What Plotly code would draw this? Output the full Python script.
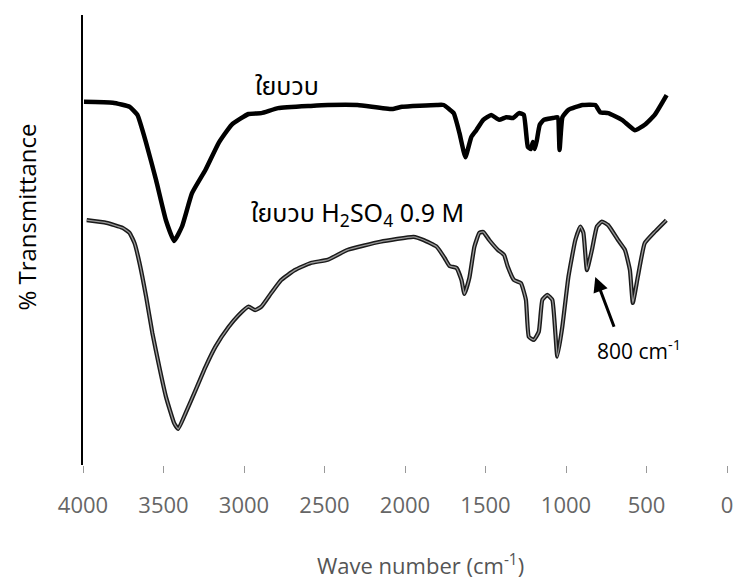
import plotly.graph_objects as go

# Raw fibre (ใยบวบ) spectrum: wavenumber (cm-1) and transmittance (a.u.)
wn_raw = [3994, 3815, 3711, 3662, 3608, 3546, 3485, 3434, 3385, 3323, 3239, 3157, 3077,
          2972, 2892, 2788, 2585, 2480, 2295, 2080, 2018, 1803, 1760, 1698, 1662, 1625,
          1588, 1557, 1514, 1465, 1415, 1372, 1329, 1292, 1262, 1237, 1218, 1206, 1194,
          1182, 1163, 1138, 1083, 1052, 1040, 1022, 985, 898, 818, 788, 738, 652, 572,
          511, 449, 375]
t_raw = [80.7, 80.5, 79.6, 77.8, 71.6, 63.3, 54.4, 49.8, 53.0, 60.4, 65.6, 71.6, 75.6,
         78.0, 78.2, 79.3, 79.8, 80.0, 80.0, 79.1, 79.6, 80.0, 80.0, 78.2, 73.8, 68.4,
         72.9, 74.4, 76.7, 77.8, 76.7, 77.3, 77.1, 78.2, 77.8, 70.7, 70.2, 71.8, 70.2,
         72.0, 75.6, 76.7, 77.1, 77.3, 70.0, 77.3, 78.9, 80.0, 80.0, 78.4, 78.2, 76.7,
         74.4, 75.6, 77.8, 82.2]

# Acid-treated fibre (ใยบวบ H2SO4 0.9 M) spectrum
wn_acid = [3977, 3854, 3754, 3711, 3680, 3649, 3608, 3569, 3526, 3485, 3434, 3409, 3362,
           3300, 3239, 3177, 3095, 3034, 2972, 2931, 2892, 2831, 2769, 2685, 2585, 2480,
           2357, 2154, 1947, 1885, 1803, 1754, 1723, 1680, 1649, 1631, 1600, 1569, 1538,
           1514, 1477, 1423, 1385, 1362, 1323, 1280, 1249, 1231, 1200, 1169, 1147, 1116,
           1085, 1054, 1023, 985, 942, 911, 892, 870, 839, 808, 777, 738, 677, 634, 603,
           585, 554, 511, 449, 408, 377]
t_acid = [54.4, 53.8, 52.7, 51.6, 49.3, 44.9, 37.4, 29.3, 21.8, 15.2, 9.3, 8.0, 11.6,
          16.7, 21.8, 26.3, 30.7, 33.3, 35.2, 34.4, 35.2, 38.2, 41.1, 43.3, 44.9, 45.6,
          47.8, 49.6, 50.7, 50.0, 48.5, 46.0, 44.2, 43.8, 41.1, 38.0, 41.6, 48.5, 51.6,
          51.8, 50.0, 47.8, 46.7, 44.1, 41.1, 40.4, 36.7, 28.5, 27.8, 29.6, 36.7, 37.8,
          36.7, 24.1, 30.7, 41.8, 50.0, 53.0, 51.6, 43.3, 47.8, 53.0, 54.1, 53.3, 50.0,
          47.8, 43.3, 36.0, 41.8, 49.3, 51.8, 53.3, 54.4]

x_ticks = [4000, 3500, 3000, 2500, 2000, 1500, 1000, 500, 0]
label_raw = "ใยบวบ"
label_acid = "ใยบวบ H<sub>2</sub>SO<sub>4</sub> 0.9 M"
label_peak = "800 cm<sup>-1</sup>"
x_title = "Wave number (cm<sup>-1</sup>)"
y_title = "% Transmittance"

fig = go.Figure()
fig.add_trace(go.Scatter(x=wn_raw, y=t_raw, mode="lines",
                         line=dict(color="black", width=4.5, shape="spline", smoothing=0.4),
                         showlegend=False, hoverinfo="skip"))
fig.add_trace(go.Scatter(x=wn_acid, y=t_acid, mode="lines",
                         line=dict(color="#1a1a1a", width=4.2, shape="spline", smoothing=0.4),
                         showlegend=False, hoverinfo="skip"))
fig.add_trace(go.Scatter(x=wn_acid, y=t_acid, mode="lines",
                         line=dict(color="#9a9a9a", width=1.3, shape="spline", smoothing=0.4),
                         showlegend=False, hoverinfo="skip"))

thai_font = "Noto Sans Thai, Noto Sans, DejaVu Sans, sans-serif"

fig.add_annotation(x=2945, y=84.0, text=label_raw, showarrow=False, xanchor="left",
                   yanchor="middle", font=dict(family=thai_font, size=25, color="black"))
fig.add_annotation(x=2972, y=55.5, text=label_acid, showarrow=False, xanchor="left",
                   yanchor="middle", font=dict(family=thai_font, size=25, color="black"))
fig.add_annotation(x=818, y=41.8, ax=698, ay=30.4, axref="x", ayref="y", xref="x", yref="y",
                   text="", showarrow=True, arrowhead=2, arrowsize=1.0, arrowwidth=3,
                   arrowcolor="black")
fig.add_annotation(x=548, y=25.6, text=label_peak, showarrow=False,
                   font=dict(family="Open Sans, sans-serif", size=21, color="black"))

# axis titles placed as paper annotations
fig.add_annotation(xref="paper", yref="paper", x=0.5246, y=-0.2222, text=x_title,
                   showarrow=False, xanchor="center", yanchor="middle",
                   font=dict(family="Open Sans, sans-serif", size=22, color="#555555"))
fig.add_annotation(xref="paper", yref="paper", x=-0.0892, y=0.551, text=y_title,
                   showarrow=False, xanchor="center", yanchor="middle", textangle=-90,
                   font=dict(family="Open Sans, sans-serif", size=24, color="black"))

fig.update_layout(
    width=742, height=585,
    margin=dict(l=83, r=9, t=15, b=120),
    paper_bgcolor="white", plot_bgcolor="white",
    xaxis=dict(range=[4000, 0], tickvals=x_ticks, ticktext=[str(v) for v in x_ticks],
               showgrid=False, zeroline=False, showline=False,
               ticks="outside", ticklen=7, tickwidth=1, tickcolor="#999999",
               ticklabelstandoff=14,
               tickfont=dict(family="Open Sans, sans-serif", size=22, color="#666666")),
    yaxis=dict(range=[0, 100], showgrid=False, zeroline=False, showline=True,
               linecolor="black", linewidth=1.5, showticklabels=False, ticks=""),
)

fig.write_html("out.html")
